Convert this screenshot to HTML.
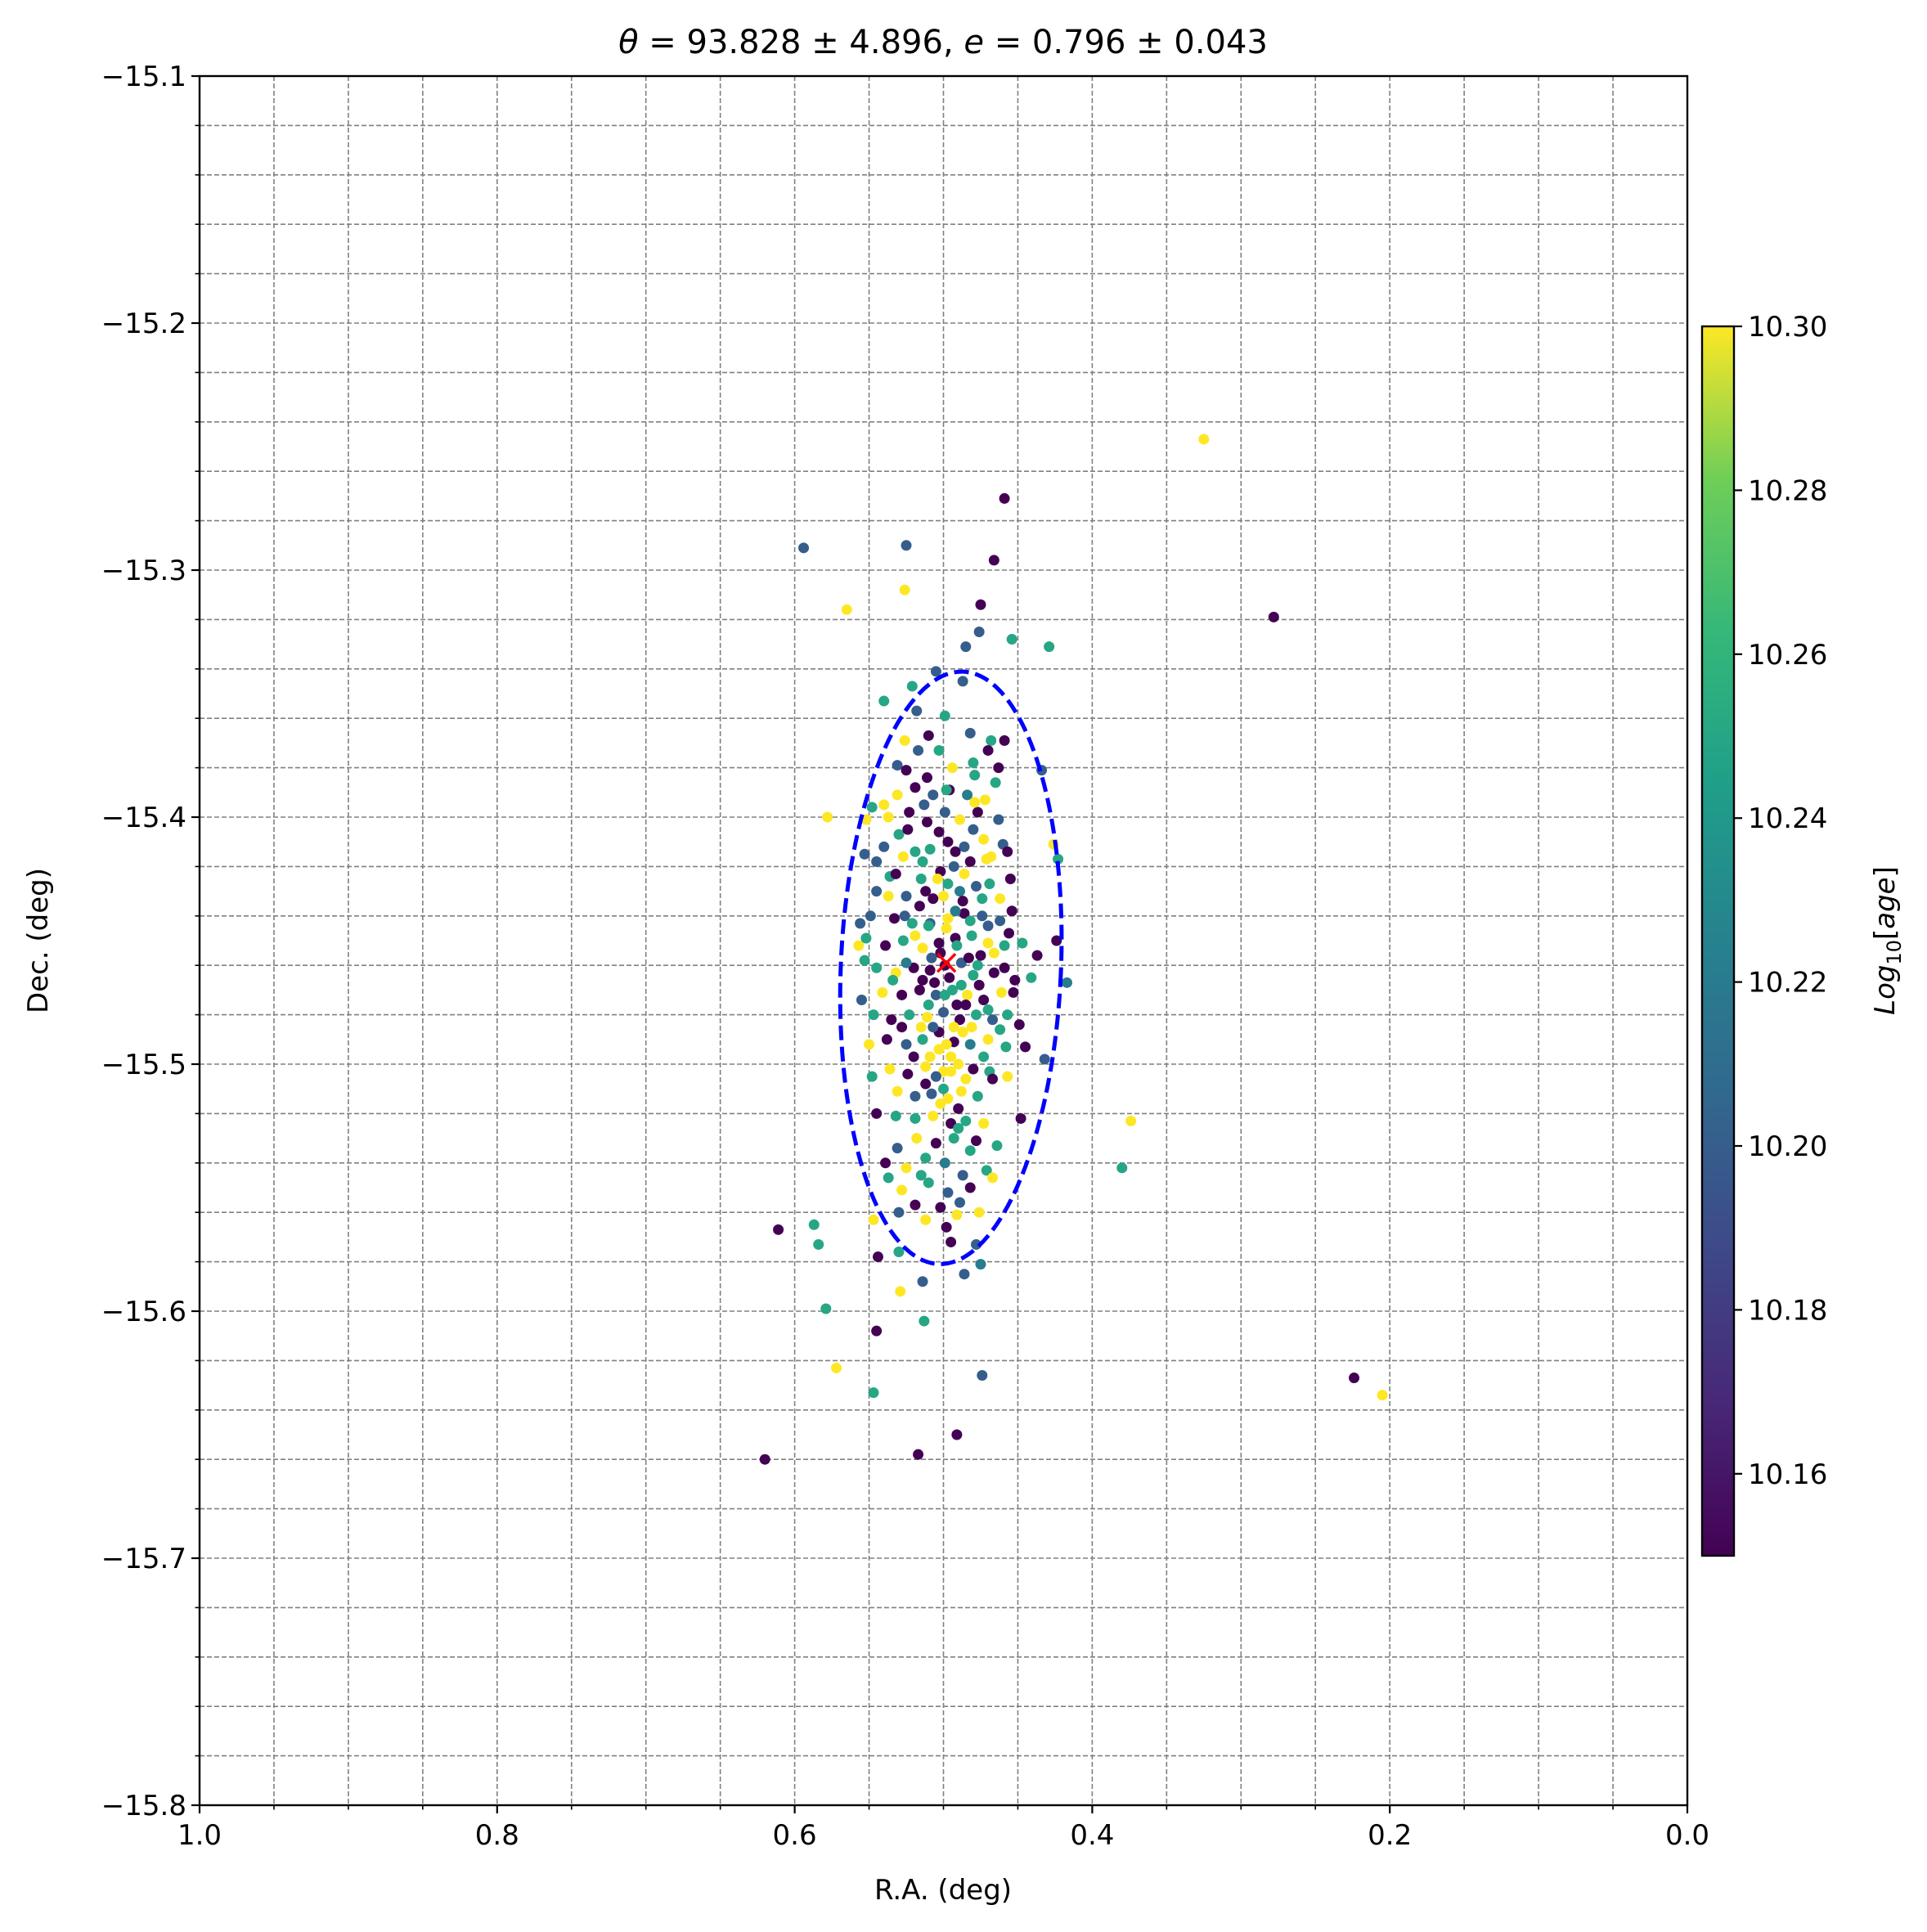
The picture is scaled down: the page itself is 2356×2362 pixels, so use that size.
<!DOCTYPE html>
<html><head><meta charset="utf-8"><style>
html,body{margin:0;padding:0;background:#fff;}
svg{display:block;font-family:"DejaVu Sans","Liberation Sans",sans-serif;}
</style></head><body>
<svg id="chart" xmlns="http://www.w3.org/2000/svg" width="2356" height="2362" viewBox="0 0 2356 2362">
<rect width="2356" height="2362" fill="#fff"/>
<defs>
<linearGradient id="vir" x1="0" y1="1" x2="0" y2="0">
<stop offset="0" stop-color="#440154"/><stop offset="0.125" stop-color="#482878"/><stop offset="0.25" stop-color="#3e4989"/><stop offset="0.375" stop-color="#31688e"/><stop offset="0.5" stop-color="#26828e"/><stop offset="0.625" stop-color="#1f9e89"/><stop offset="0.75" stop-color="#35b779"/><stop offset="0.875" stop-color="#6ece58"/><stop offset="1" stop-color="#fde725"/>
</linearGradient>
<clipPath id="plotclip"><rect x="244" y="93" width="1819" height="2114"/></clipPath>
</defs>
<g id="grid"></g>
<g id="pts" clip-path="url(#plotclip)"></g>
<g id="axes"></g>
<text x="1153" y="65" font-size="40" text-anchor="middle"><tspan font-style="italic">θ</tspan> = 93.828 ± 4.896, <tspan font-style="italic">e</tspan> = 0.796 ± 0.043</text>
<text x="1153" y="2322" font-size="34" text-anchor="middle">R.A. (deg)</text>
<text x="0" y="0" font-size="34" text-anchor="middle" transform="translate(58,1150) rotate(-90)">Dec. (deg)</text>
<g id="cbar"></g>
<text x="0" y="0" font-size="34" text-anchor="middle" transform="translate(2316,1150) rotate(-90)"><tspan font-style="italic">Log</tspan><tspan font-size="24" dy="8">10</tspan><tspan dy="-8">[</tspan><tspan font-style="italic">age</tspan>]</text>
</svg>
<script>
const raVals=[0.325,0.459,0.278,0.594,0.525,0.466,0.565,0.526,0.475,0.476,0.454,0.429,0.485,0.578,0.423,0.417,0.374,0.380,0.611,0.587,0.584,0.579,0.544,0.529,0.545,0.513,0.514,0.475,0.486,0.572,0.547,0.474,0.517,0.491,0.620,0.224,0.205,0.432,0.424,0.434,0.426,0.557,
0.540,0.521,0.505,0.499,0.487,0.482,0.468,0.459,0.510,0.526,0.517,0.503,0.531,0.525,0.511,0.494,0.480,0.470,0.465,0.472,0.484,0.496,0.507,0.519,0.531,0.540,0.548,0.552,0.523,0.511,0.499,0.489,0.477,0.463,0.460,0.473,0.486,0.497,0.509,0.519,0.530,0.540,0.553,0.527,0.515,0.502,0.493,0.482,0.471,0.457,0.478,0.489,0.500,0.512,0.525,0.537,0.549,0.533,0.521,0.509,0.497,0.486,0.474,0.462,0.454,0.447,0.459,0.470,0.481,0.492,0.503,0.514,0.527,0.539,0.552,0.545,0.532,0.520,0.509,0.499,0.488,0.477,0.466,0.452,0.437,0.441,0.461,0.473,0.484,0.494,0.505,0.516,0.528,0.541,0.547,0.535,0.523,0.511,0.500,0.489,0.478,0.467,0.457,0.449,0.445,0.458,0.470,0.482,0.493,0.503,0.514,0.525,0.538,0.550,0.548,0.536,0.524,0.512,0.500,0.490,0.480,0.469,0.457,0.467,0.477,0.488,0.497,0.508,0.519,0.531,0.545,0.532,0.519,0.507,0.495,0.485,0.473,0.448,0.464,0.478,0.493,0.505,0.518,0.531,0.539,0.525,0.512,0.499,0.487,0.471,0.467,0.482,0.497,0.510,0.528,0.537,0.519,0.502,0.489,0.512,0.498,0.491,0.547,0.478,0.530,0.495,
0.502,0.496,0.488,0.506,0.510,0.485,0.493,0.503,0.515,0.519,0.475,0.482,0.492,0.507,0.497,0.486,0.495,0.500,0.490,0.505,0.480,0.466,0.536,0.545,0.455,0.463,0.479,0.518,0.513,0.556,0.553,0.555,0.525,0.459,
0.498,0.491,0.483,0.508,0.514,0.476,0.470,0.487,0.498,0.509,0.495,0.485,0.502,0.490,0.512,0.520,0.528,0.534,0.526,0.516,0.504,0.492,0.480,0.469,0.462,0.456,0.470,0.487,0.503,0.514,0.532,0.545,0.537,0.524,0.498,0.479,0.468,0.453,0.462,0.473,0.482,0.515,0.530,0.476,0.507,0.481,0.499,0.510,0.474,0.491];
const decVals=[-15.247,-15.271,-15.319,-15.291,-15.290,-15.296,-15.316,-15.308,-15.314,-15.325,-15.328,-15.331,-15.331,-15.400,-15.417,-15.467,-15.523,-15.542,-15.567,-15.565,-15.573,-15.599,-15.578,-15.592,-15.608,-15.604,-15.588,-15.581,-15.585,-15.623,-15.633,-15.626,-15.658,-15.650,-15.660,-15.627,-15.634,-15.498,-15.450,-15.381,-15.411,-15.452,
-15.353,-15.347,-15.341,-15.359,-15.345,-15.366,-15.369,-15.369,-15.367,-15.369,-15.373,-15.373,-15.379,-15.381,-15.384,-15.380,-15.378,-15.373,-15.386,-15.393,-15.391,-15.389,-15.391,-15.388,-15.391,-15.395,-15.396,-15.401,-15.398,-15.402,-15.398,-15.401,-15.398,-15.401,-15.411,-15.409,-15.412,-15.410,-15.413,-15.414,-15.407,-15.412,-15.415,-15.416,-15.425,-15.422,-15.420,-15.418,-15.417,-15.414,-15.428,-15.430,-15.432,-15.430,-15.432,-15.432,-15.440,-15.441,-15.443,-15.443,-15.441,-15.439,-15.440,-15.442,-15.438,-15.451,-15.452,-15.451,-15.448,-15.449,-15.451,-15.453,-15.450,-15.452,-15.449,-15.461,-15.463,-15.461,-15.462,-15.460,-15.459,-15.460,-15.463,-15.466,-15.456,-15.465,-15.471,-15.474,-15.472,-15.470,-15.472,-15.470,-15.472,-15.471,-15.480,-15.482,-15.480,-15.481,-15.479,-15.482,-15.480,-15.482,-15.480,-15.484,-15.493,-15.493,-15.490,-15.492,-15.491,-15.494,-15.490,-15.492,-15.490,-15.492,-15.505,-15.502,-15.504,-15.501,-15.503,-15.500,-15.502,-15.503,-15.505,-15.506,-15.513,-15.511,-15.514,-15.512,-15.513,-15.511,-15.520,-15.521,-15.522,-15.521,-15.524,-15.523,-15.524,-15.522,-15.533,-15.531,-15.530,-15.532,-15.530,-15.534,-15.540,-15.542,-15.538,-15.540,-15.545,-15.543,-15.546,-15.550,-15.552,-15.548,-15.551,-15.546,-15.557,-15.558,-15.556,-15.563,-15.566,-15.561,-15.563,-15.573,-15.576,-15.572,
-15.455,-15.465,-15.468,-15.467,-15.476,-15.476,-15.485,-15.487,-15.485,-15.448,-15.456,-15.442,-15.438,-15.433,-15.427,-15.423,-15.503,-15.510,-15.518,-15.505,-15.464,-15.455,-15.424,-15.430,-15.425,-15.380,-15.383,-15.357,-15.395,-15.443,-15.458,-15.474,-15.459,-15.461,
-15.445,-15.452,-15.457,-15.457,-15.466,-15.468,-15.478,-15.487,-15.492,-15.497,-15.497,-15.506,-15.516,-15.526,-15.508,-15.497,-15.485,-15.466,-15.440,-15.436,-15.425,-15.414,-15.405,-15.427,-15.433,-15.447,-15.444,-15.434,-15.406,-15.418,-15.423,-15.418,-15.400,-15.405,-15.389,-15.394,-15.416,-15.471,-15.486,-15.497,-15.535,-15.545,-15.560,-15.560,-15.485,-15.485,-15.472,-15.444,-15.433,-15.476];
const ageCodesOutliers="yppbbpyypbggbygtygpgggpypgbtbygbppppybpbyy";
const ageCodesCluster="ggbgbbgppybgbppygpgytpbpyygyppbypbbybpgggbbygpbpypbtypbybpgbypbbpggygppygpggypppbgpppgypygbppygpgybpgbgppgytpygbpygypyyypgypgyybbypggypgypgpgpybpygtbgypbgygppbypyybg";
const ageCodesExtra="pppgpgpypyypgtpgyygpbgygbppgbbbgbt";
const ageCodesExtra2="pygpbppgyyyyyygpppgbpypbgypbppgpbypgyypggggbybygggp";
const ageMap={p:10.15,b:10.20,t:10.22,g:10.25,y:10.30};
const ageCodes=ageCodesOutliers+ageCodesCluster+ageCodesExtra+ageCodesExtra2;
const ellipseCenter=[0.495,-15.461];
const ellipseSemi=[0.074,0.120];
const ellipseTiltDeg=2.4;
const markerCenter=[0.498,-15.459];
const xTicks=[1.0,0.8,0.6,0.4,0.2,0.0];
const xTickLabels=["1.0","0.8","0.6","0.4","0.2","0.0"];
const yTicks=[-15.1,-15.2,-15.3,-15.4,-15.5,-15.6,-15.7,-15.8];
const yTickLabels=["\u221215.1","\u221215.2","\u221215.3","\u221215.4","\u221215.5","\u221215.6","\u221215.7","\u221215.8"];
const cbTicks=[10.16,10.18,10.20,10.22,10.24,10.26,10.28,10.30];
const cbTickLabels=["10.16","10.18","10.20","10.22","10.24","10.26","10.28","10.30"];

const NS="http://www.w3.org/2000/svg";
const L=244,R=2063,T=93,B=2207;
const X=v=>L+(1-v)*(R-L);
const Y=v=>T+(-15.1-v)/0.7*(B-T);
const CBT=399,CBB=1902,CBL=2081,CBR=2120;
const CY=v=>CBB-(v-10.15)/0.15*(CBB-CBT);
function mk(tag,attrs,parent){const e=document.createElementNS(NS,tag);for(const k in attrs)e.setAttribute(k,attrs[k]);parent.appendChild(e);return e;}
const vir=[[68,1,84],[72,40,120],[62,73,137],[49,104,142],[38,130,142],[31,158,137],[53,183,121],[110,206,88],[253,231,37]];
function viridis(t){t=Math.max(0,Math.min(1,t));const s=t*8,i=Math.min(7,Math.floor(s)),f=s-i;const a=vir[i],b=vir[i+1];return `rgb(${a.map((c,k)=>Math.round(c+(b[k]-c)*f)).join(",")})`;}

const grid=document.getElementById('grid');
for(let i=1;i<20;i++){const x=X(i*0.05);
 const g=mk('line',{x1:x,x2:x,y1:T,y2:B,stroke:'#808080','stroke-width':1.6,'stroke-dasharray':'6,3'},grid);
 
 }
for(let i=1;i<35;i++){const y=Y(-15.1-i*0.02);
 const g=mk('line',{x1:L,x2:R,y1:y,y2:y,stroke:'#808080','stroke-width':1.6,'stroke-dasharray':'6,3'},grid);
 
 }

const pts=document.getElementById('pts');
const n=Math.min(raVals.length,decVals.length);
for(let i=0;i<n;i++){const age=ageMap[ageCodes[i]]||10.2;
 const c=mk('circle',{cx:X(raVals[i]),cy:Y(decVals[i]),r:6.5,fill:viridis((age-10.15)/0.15)},pts);
 
 }
const ecx=X(ellipseCenter[0]),ecy=Y(ellipseCenter[1]);
const el=mk('ellipse',{cx:ecx,cy:ecy,rx:ellipseSemi[0]*(R-L),ry:ellipseSemi[1]/0.7*(B-T),fill:'none',stroke:'#0000ff','stroke-width':5,'stroke-dasharray':'18,8',transform:`rotate(${ellipseTiltDeg} ${ecx} ${ecy})`},pts);


const mx=X(markerCenter[0]),my=Y(markerCenter[1]);
const cm=mk('path',{d:`M${mx-11} ${my-11}L${mx+11} ${my+11}M${mx-11} ${my+11}L${mx+11} ${my-11}`,stroke:'#ff0000','stroke-width':3.5,fill:'none'},pts);



const ax=document.getElementById('axes');
mk('rect',{x:L,y:T,width:R-L,height:B-T,fill:'none',stroke:'#000','stroke-width':2.4},ax);
for(let i=0;i<=20;i++){const x=X(i*0.05);mk('line',{x1:x,x2:x,y1:B,y2:B+(i%4==0?10:5.5),stroke:'#000','stroke-width':i%4==0?2.2:1.6},ax);}
for(let i=0;i<=35;i++){const y=Y(-15.1-i*0.02);mk('line',{x1:L,x2:L-(i%5==0?10:5.5),y1:y,y2:y,stroke:'#000','stroke-width':i%5==0?2.2:1.6},ax);}
xTicks.forEach((v,i)=>{const t=mk('text',{x:X(v),y:B+48,'font-size':34,'text-anchor':'middle'},ax);t.textContent=xTickLabels[i];
 
 });
yTicks.forEach((v,i)=>{const t=mk('text',{x:L-16,y:Y(v)+12,'font-size':34,'text-anchor':'end'},ax);t.textContent=yTickLabels[i];
 
 });

const cb=document.getElementById('cbar');
mk('rect',{x:CBL,y:CBT,width:CBR-CBL,height:CBB-CBT,fill:'url(#vir)',stroke:'#000','stroke-width':2.4},cb);
cbTicks.forEach((v,i)=>{const y=CY(v);mk('line',{x1:CBR,x2:CBR+10,y1:y,y2:y,stroke:'#000','stroke-width':2.2},cb);
 const t=mk('text',{x:CBR+17,y:y+12,'font-size':34},cb);t.textContent=cbTickLabels[i];
 
 });
</script>
</body></html>
